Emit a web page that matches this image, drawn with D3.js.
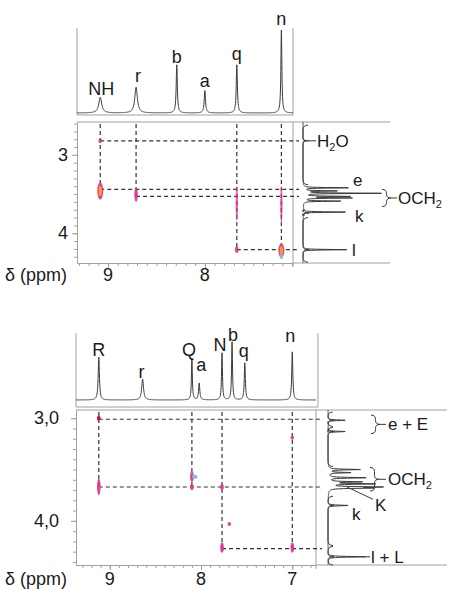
<!DOCTYPE html>
<html>
<head>
<meta charset="utf-8">
<script src="https://cdn.jsdelivr.net/npm/d3@7"></script>
<style>
body { margin: 0; background: #fff; }
text { font-family: "Liberation Sans", Arial, sans-serif; fill: #1a1a1a; }
</style>
</head>
<body>
<svg id="fig" width="449" height="589"></svg>
<script>
// ---------- upper experiment ----------
const topLabels = ["NH", "r", "b", "a", "q", "n"];
const topShifts = [9.08, 8.71, 8.29, 8.00, 7.67, 7.21];
const topHeights = [19, 31, 58, 27, 58, 100];
const topWidths = [0.018, 0.016, 0.007, 0.008, 0.007, 0.006];

const topSideShifts = [2.82, 3.42, 3.46, 3.49, 3.53, 3.55, 3.59, 3.73, 4.21];
const topSideHeights = [3, 58, 42, 100, 58, 61, 48, 55, 57];

// [x ppm, y ppm, half length ppm, level]
const topCross = [
  [9.08, 2.82, 0.03, 1], [9.08, 3.46, 0.11, 3], [8.71, 3.51, 0.09, 1],
  [7.67, 3.62, 0.22, 0], [7.67, 4.21, 0.04, 1],
  [7.21, 3.64, 0.24, 0], [7.21, 4.22, 0.09, 4]
];
const topHLines = [[2.82, 9.08], [3.44, 9.08], [3.53, 8.71], [4.21, 7.67]];
const topVLines = [[9.08, 3.44], [8.71, 3.53], [7.67, 4.21], [7.21, 4.21]];
const topBraces = [[2.62, 2.82, 3.38], [3.70, 3.74, 3.77], [3.80, 4.21, 4.37]];
const topXTicks = [9, 8];
const topYTicks = [3, 4];
const topYTickText = ["3", "4"];

// ---------- lower experiment ----------
const botLabels = ["R", "r", "Q", "a", "N", "b", "q", "n"];
const botShifts = [9.12, 8.64, 8.10, 8.02, 7.77, 7.66, 7.52, 7.00];
const botHeights = [74, 36, 71, 29, 81, 100, 64, 83];
const botWidths = [0.008, 0.012, 0.006, 0.008, 0.006, 0.006, 0.007, 0.007];

const botSideShifts = [3.02, 3.13, 3.50, 3.53, 3.58, 3.62, 3.64, 3.67, 3.68, 3.85, 4.35];
const botSideHeights = [35, 35, 65, 45, 76, 65, 92, 100, 80, 41, 76];

const botCross = [
  [9.12, 3.00, 0.03, 2], [9.12, 3.67, 0.08, 1],
  [8.10, 3.57, 0.05, 1], [8.10, 3.67, 0.03, 1], [8.07, 3.57, 0.01, 5],
  [7.77, 3.67, 0.03, 1], [7.77, 4.26, 0.05, 1],
  [7.00, 3.19, 0.01, 1], [7.00, 4.26, 0.05, 1], [7.69, 4.03, 0.01, 1]
];
const botHLines = [[3.01, 9.12], [3.67, 9.12], [4.27, 7.77]];
const botVLines = [[9.12, 3.67], [8.10, 3.67], [7.77, 4.27], [7.00, 4.27]];
const botBraces = [[2.94, 3.02, 3.08], [3.09, 3.13, 3.47], [3.76, 3.85, 4.24], [4.25, 4.35, 4.43]];
const botXTicks = [9, 8, 7];
const botYTicks = [3, 4];
const botYTickText = ["3,0", "4,0"];

const svg = d3.select("#fig");
const frameColor = "#a0a0a0";
const traceColor = "#3a3a3a";

function lorentz(grid, shifts, heights, widths) {
  return grid.map(p => {
    let s = 0;
    shifts.forEach((c, i) => {
      const w = widths[i];
      s += heights[i] * w * w / ((p - c) * (p - c) + w * w);
    });
    return [p, s];
  });
}

// side baseline shape: curls at both ends, small tip at the peak
function sideBrace(x0, y0, yt, y1) {
  const c = Math.min(5, (y1 - y0) / 3);
  return `M${x0 + c},${y0} Q${x0},${y0} ${x0},${y0 + c} L${x0},${yt - 3} Q${x0},${yt} ${x0 + 6},${yt} ` +
    `Q${x0},${yt} ${x0},${yt + 3} L${x0},${y1 - c} Q${x0},${y1} ${x0 + c},${y1}`;
}

// "}" bracket for annotations
function curly(x, y0, y1, w) {
  const ym = (y0 + y1) / 2, r = Math.min(4, (y1 - y0) / 4), xm = x + w / 2;
  return `M${x},${y0} Q${xm},${y0} ${xm},${y0 + r} L${xm},${ym - r} Q${xm},${ym} ${x + w},${ym} ` +
    `Q${xm},${ym} ${xm},${ym + r} L${xm},${y1 - r} Q${xm},${y1} ${x},${y1}`;
}

function drawPanel(cfg) {
  const g = svg.append("g");
  const x = d3.scaleLinear().domain(cfg.xDom).range(cfg.xRange);
  const y = d3.scaleLinear().domain(cfg.yDom).range(cfg.yRange);
  const h = d3.scaleLinear().domain([0, 100]).range(cfg.specRange);
  const s = d3.scaleLinear().domain([0, 100]).range(cfg.sideRange);
  const [x0, x1] = cfg.xRange, [y0, y1] = cfg.yRange;

  // frames
  const line = (a, b, c, d) => g.append("line").attr("x1", a).attr("y1", b).attr("x2", c).attr("y2", d)
    .attr("stroke", frameColor).attr("stroke-width", 1);
  line(x0, cfg.boxTop, x0, cfg.boxBottom);
  line(cfg.boxRight, cfg.boxTop, cfg.boxRight, cfg.boxBottom);
  line(x0, cfg.boxBottom, cfg.boxRight, cfg.boxBottom);
  line(x0, y0, cfg.sideRight, y0);
  line(x1, y0, x1, y1 + 4);
  line(x1, y1, cfg.sideRight, y1);

  // axes with minor ticks every 0.1 ppm
  const xMinor = d3.range(Math.ceil(cfg.xDom[1] * 10), Math.floor(cfg.xDom[0] * 10) + 1).map(v => v / 10);
  const yMinor = d3.range(Math.ceil(cfg.yDom[0] * 10), Math.floor(cfg.yDom[1] * 10) + 1).map(v => v / 10);
  g.append("g").attr("transform", `translate(0,${y1})`)
    .call(d3.axisBottom(x).tickValues(xMinor).tickSize(3).tickSizeOuter(0).tickFormat(""));
  g.append("g").attr("transform", `translate(0,${y1})`)
    .call(d3.axisBottom(x).tickValues(cfg.xTicks).tickSize(5).tickSizeOuter(0).tickFormat(""))
    .select(".domain").remove();
  g.append("g").attr("transform", `translate(${x0},0)`)
    .call(d3.axisLeft(y).tickValues(yMinor).tickSize(3).tickSizeOuter(0).tickFormat(""));
  g.append("g").attr("transform", `translate(${x0},0)`)
    .call(d3.axisLeft(y).tickValues(cfg.yTicks).tickSize(5).tickSizeOuter(0).tickFormat(""))
    .select(".domain").remove();
  g.selectAll(".domain, .tick line").attr("stroke", frameColor);

  g.selectAll(".xlab").data(cfg.xTicks).enter().append("text")
    .attr("x", d => x(d)).attr("y", y1 + cfg.xLabDy).attr("text-anchor", "middle")
    .attr("font-size", 18).text(d => d);
  g.selectAll(".ylab").data(cfg.yTicks).enter().append("text")
    .attr("x", cfg.yLabX).attr("y", d => y(d) + 6).attr("text-anchor", "end")
    .attr("font-size", 18).text((d, i) => cfg.yTickText[i]);
  g.append("text").attr("x", 5).attr("y", y1 + cfg.xLabDy).attr("font-size", 18).text("δ (ppm)");

  // top 1D trace
  const gridX = d3.range(cfg.xDom[1], cfg.xDom[0], 0.002);
  const spec = lorentz(gridX, cfg.shifts, cfg.heights, cfg.widths);
  g.append("path").datum(spec)
    .attr("d", d3.line().x(d => x(d[0])).y(d => h(d[1])))
    .attr("fill", "none").attr("stroke", traceColor).attr("stroke-width", 1);
  g.selectAll(".plab").data(cfg.labels).enter().append("text")
    .attr("x", (d, i) => x(cfg.shifts[i]) + cfg.nudge[i]).attr("y", (d, i) => h(cfg.heights[i]) - cfg.lift[i])
    .attr("text-anchor", "middle").attr("font-size", 18).text(d => d);

  // side 1D trace
  const gridY = d3.range(cfg.yDom[0], cfg.yDom[1], 0.002);
  const side = lorentz(gridY, cfg.sideShifts, cfg.sideHeights, cfg.sideShifts.map(() => 0.004));
  g.append("path").datum(side)
    .attr("d", d3.line().x(d => s(d[1])).y(d => y(d[0])))
    .attr("fill", "none").attr("stroke", traceColor).attr("stroke-width", 1);
  g.selectAll(".brace").data(cfg.braces).enter().append("path")
    .attr("d", d => sideBrace(s(0), y(d[0]), y(d[1]), y(d[2])))
    .attr("fill", "none").attr("stroke", traceColor).attr("stroke-width", 1);

  // dashed guides
  g.selectAll(".hl").data(cfg.hLines).enter().append("line")
    .attr("x1", d => x(d[1])).attr("x2", x1 + 6).attr("y1", d => y(d[0])).attr("y2", d => y(d[0]))
    .attr("stroke", "#333").attr("stroke-width", 1.2).attr("stroke-dasharray", "4,3");
  g.selectAll(".vl").data(cfg.vLines).enter().append("line")
    .attr("x1", d => x(d[0])).attr("x2", d => x(d[0])).attr("y1", y0 + 2).attr("y2", d => y(d[1]))
    .attr("stroke", "#333").attr("stroke-width", 1.2).attr("stroke-dasharray", "4,3");

  // cross peaks
  const pk = g.selectAll(".pk").data(cfg.cross).enter().append("g");
  pk.append("ellipse")
    .attr("cx", d => x(d[0])).attr("cy", d => y(d[1]))
    .attr("rx", d => d[3] >= 3 ? 3 : d[3] === 0 ? 1.2 : 1.8)
    .attr("ry", d => Math.max(2, y(d[1] + d[2]) - y(d[1])))
    .attr("fill", d => d[3] === 5 ? "#7ab6e8" : "#e0318a")
    .attr("opacity", d => d[3] === 0 ? 0.75 : 0.9);
  pk.filter(d => d[3] === 2).append("ellipse")
    .attr("cx", d => x(d[0])).attr("cy", d => y(d[1])).attr("rx", 1.3).attr("ry", 2)
    .attr("fill", "#9a0f5c");
  pk.filter(d => d[3] >= 3 && d[3] <= 4).append("ellipse")
    .attr("cx", d => x(d[0])).attr("cy", d => y(d[1]))
    .attr("rx", 1.6).attr("ry", d => (y(d[1] + d[2]) - y(d[1])) * 0.6)
    .attr("fill", "#f4a12c");
  pk.filter(d => d[3] === 4).append("ellipse")
    .attr("cx", d => x(d[0])).attr("cy", d => y(d[1] + d[2]) - 1).attr("rx", 1.6).attr("ry", 2.5)
    .attr("fill", "#6cc4ea");

  return { g, x, y, h, s };
}

// ---------- upper panel ----------
const up = drawPanel({
  xDom: [9.32, 7.09], xRange: [77, 293], yDom: [2.58, 4.38], yRange: [122, 263],
  specRange: [113, 30], sideRange: [303, 380],
  boxTop: 28, boxBottom: 115, boxRight: 293, sideRight: 390,
  xTicks: topXTicks, yTicks: topYTicks, yTickText: topYTickText, yLabX: 68, xLabDy: 18,
  labels: topLabels, shifts: topShifts, heights: topHeights, widths: topWidths,
  lift: [2, 5, 2, 4, 5, 5], nudge: [1, 2, 0, 0, 0, 0],
  sideShifts: topSideShifts, sideHeights: topSideHeights, braces: topBraces,
  hLines: topHLines, vLines: topVLines, cross: topCross
});

(function () {
  const { g, y } = up;
  const ln = (a, b, c, d) => g.append("line").attr("x1", a).attr("y1", b).attr("x2", c).attr("y2", d)
    .attr("stroke", traceColor).attr("stroke-width", 1);
  ln(309, y(2.82), 316, y(2.82));
  const t = g.append("text").attr("x", 317).attr("y", y(2.82) + 6).attr("font-size", 17);
  t.append("tspan").text("H");
  t.append("tspan").attr("font-size", 11).attr("dy", 4).text("2");
  t.append("tspan").attr("dy", -4).text("O");
  g.append("text").attr("x", 353).attr("y", y(3.40)).attr("font-size", 17).text("e");
  g.append("path").attr("d", curly(382, y(3.44), y(3.66), 9))
    .attr("fill", "none").attr("stroke", traceColor).attr("stroke-width", 1);
  ln(391, y(3.55), 397, y(3.55));
  const o = g.append("text").attr("x", 398).attr("y", y(3.55) + 6).attr("font-size", 17);
  o.append("tspan").text("OCH");
  o.append("tspan").attr("font-size", 11).attr("dy", 4).text("2");
  g.append("text").attr("x", 355).attr("y", y(3.86)).attr("font-size", 17).text("k");
  g.append("text").attr("x", 352).attr("y", y(4.21) + 6).attr("font-size", 17).text("l");
})();

// ---------- lower panel ----------
const lo = drawPanel({
  xDom: [9.37, 6.74], xRange: [76, 316], yDom: [2.92, 4.43], yRange: [410, 565],
  specRange: [400, 342], sideRange: [328, 377],
  boxTop: 333, boxBottom: 407, boxRight: 318, sideRight: 447,
  xTicks: botXTicks, yTicks: botYTicks, yTickText: botYTickText, yLabX: 59, xLabDy: 20,
  labels: botLabels, shifts: botShifts, heights: botHeights, widths: botWidths,
  lift: [1, 1, 3, 12, 2, 1, 6, 10], nudge: [0, -1, -3, 2, -2, 1, -1, -2],
  sideShifts: botSideShifts, sideHeights: botSideHeights, braces: botBraces,
  hLines: botHLines, vLines: botVLines, cross: botCross
});

(function () {
  const { g, y } = lo;
  const ln = (a, b, c, d) => g.append("line").attr("x1", a).attr("y1", b).attr("x2", c).attr("y2", d)
    .attr("stroke", traceColor).attr("stroke-width", 1);
  g.append("path").attr("d", curly(371, y(2.97), y(3.15), 9))
    .attr("fill", "none").attr("stroke", traceColor).attr("stroke-width", 1);
  ln(380, y(3.06), 386, y(3.06));
  g.append("text").attr("x", 388).attr("y", y(3.06) + 6).attr("font-size", 17).text("e + E");
  g.append("path").attr("d", curly(370, y(3.48), y(3.71), 9))
    .attr("fill", "none").attr("stroke", traceColor).attr("stroke-width", 1);
  ln(379, y(3.595), 386, y(3.595));
  const o = g.append("text").attr("x", 388).attr("y", y(3.595) + 6).attr("font-size", 17);
  o.append("tspan").text("OCH");
  o.append("tspan").attr("font-size", 11).attr("dy", 4).text("2");
  ln(347, y(3.67), 373, y(3.79));
  g.append("text").attr("x", 375).attr("y", y(3.90)).attr("font-size", 17).text("K");
  g.append("text").attr("x", 352).attr("y", y(3.99)).attr("font-size", 17).text("k");
  ln(364, y(4.35), 370, y(4.35));
  g.append("text").attr("x", 371).attr("y", y(4.35) + 6).attr("font-size", 17).text("l + L");
})();
</script>
</body>
</html>
